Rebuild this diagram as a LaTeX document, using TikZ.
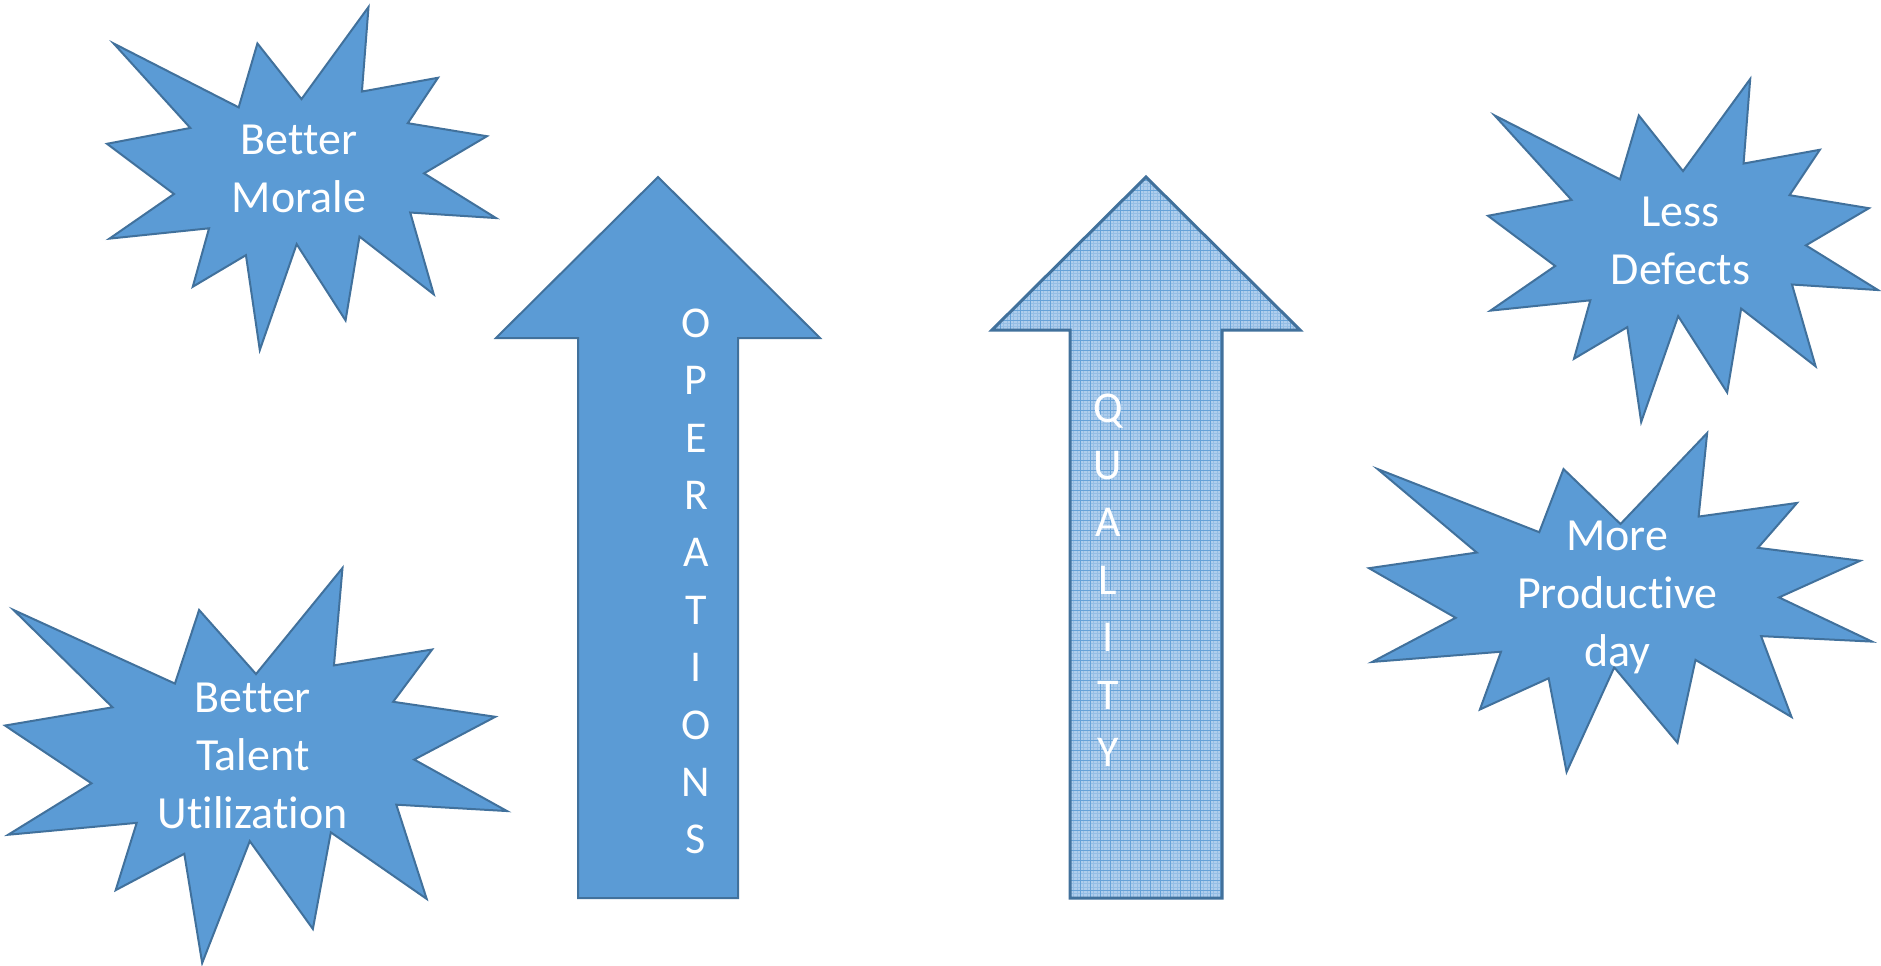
\documentclass[tikz,border=0pt]{standalone}
\usepackage{fontspec}
\setmainfont{Carlito}[Ligatures=NoCommon]
\definecolor{sealblue}{HTML}{5B9BD5}
\definecolor{sealedge}{HTML}{41719C}
\definecolor{gridblue}{HTML}{AFCEED}
\begin{document}
\begin{tikzpicture}[x=0.5pt,y=-0.5pt,
  seal/.style={fill=sealblue,draw=sealedge,line width=1pt},
  sealtext/.style={text=white,align=center,font=\fontsize{23}{29}\selectfont},
  arrowtext/.style={text=white,align=center,font=\fontsize{22}{28.7}\selectfont}]
\useasboundingbox[fill=white] (0,0) rectangle (1881,965);
\foreach \x/\y/\w/\h/\ty/\txt [count=\i] in
  {107/7/389/343/168.5/{Better\\Morale},
   5/568/502/395/755.5/{Better\\Talent\\Utilization},
   1488/79/390/343/241/{Less\\Defects},
   1369/433/503/339/597/{More\\Productive\\day}}
{
  \begin{scope}[shift={(\x,\y)},xscale=\w,yscale=\h]
    \draw[seal] (0.5,0.2685) -- (0.6723,0) -- (0.6553,0.2465) -- (0.8509,0.2063)
      -- (0.7732,0.3387) -- (0.9767,0.3767) -- (0.8151,0.4850) -- (1,0.6153)
      -- (0.7795,0.5992) -- (0.8400,0.8377) -- (0.6491,0.6693) -- (0.6133,0.9138)
      -- (0.4876,0.6914) -- (0.3928,1) -- (0.3572,0.7235) -- (0.2205,0.8156)
      -- (0.2624,0.6452) -- (0.0063,0.6753) -- (0.1723,0.5451) -- (0,0.3988)
      -- (0.2142,0.3526) -- (0.0171,0.1063) -- (0.3385,0.2926) -- (0.3867,0.1063) -- cycle;
  \end{scope}
  \node[sealtext] (seal\i) at (\x+0.4937*\w,\ty) {\txt};
}
% operations arrow
\coordinate (opTip) at (658,177);
\coordinate (opL) at (496,338);
\coordinate (opR) at (820,338);
\coordinate (opBL) at (578,898);
\coordinate (opBR) at (738,898);
\draw[seal] (opBL) -- (opBL |- opL) -- (opL) -- (opTip) -- (opR) -- (opBR |- opR) -- (opBR) -- cycle;
\node[arrowtext] (operations) at (696,581.5) {O\\P\\E\\R\\A\\T\\I\\O\\N\\S};
% quality arrow
\coordinate (qTip) at (1146,177);
\coordinate (qL) at (992,330);
\coordinate (qR) at (1300,330);
\coordinate (qBL) at (1070,898);
\coordinate (qBR) at (1222,898);
\begin{scope}
  \clip (qBL) -- (qBL |- qL) -- (qL) -- (qTip) -- (qR) -- (qBR |- qR) -- (qBR) -- cycle;
  \fill[gridblue] (980,170) rectangle (1310,905);
  \draw[sealblue,opacity=0.3,line width=0.3pt,step=1.667pt] (980,170) grid (1310,905);
  \draw[sealblue,opacity=0.8,line width=0.5pt,step=5pt] (980,170) grid (1310,905);
\end{scope}
\draw[draw=sealedge,line width=1.5pt] (qBL) -- (qBL |- qL) -- (qL) -- (qTip) -- (qR) -- (qBR |- qR) -- (qBR) -- cycle;
\node[arrowtext] (quality) at (1108,580) {Q\\U\\A\\L\\I\\T\\Y};
\end{tikzpicture}
\end{document}
